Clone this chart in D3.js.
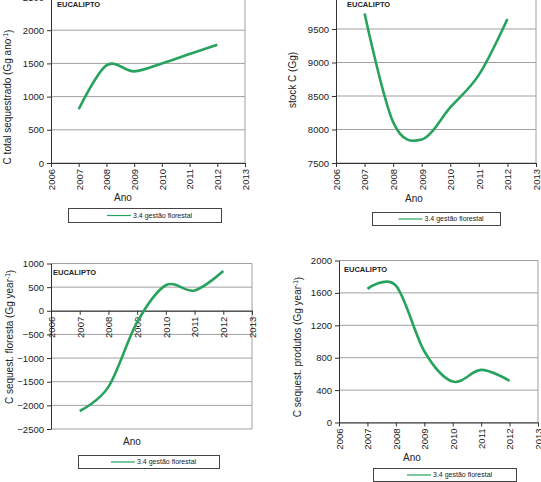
<!DOCTYPE html>
<html>
<head>
<meta charset="utf-8">
<script src="https://cdn.jsdelivr.net/npm/d3@7"></script>
<style>
  body { margin: 0; background: #fff; }
  svg { display: block; font-family: "Liberation Sans", Arial, sans-serif; }
</style>
</head>
<body>
<div id="chart"></div>
<script>
// data
const years = [2007, 2008, 2009, 2010, 2011, 2012];
const xTicks = [2006, 2007, 2008, 2009, 2010, 2011, 2012, 2013];
const seriesName = "3.4 gestão florestal";
const panelTag = "EUCALIPTO";

const cTotal = [810, 1470, 1380, 1500, 1640, 1780];
const stockC = [9730, 8110, 7850, 8330, 8815, 9650];
const cFloresta = [-2120, -1610, -240, 540, 430, 840];
const cProdutos = [1650, 1690, 880, 505, 650, 515];

const yTicks1 = [0, 500, 1000, 1500, 2000, 2500];
const yTicks2 = [7500, 8000, 8500, 9000, 9500, 10000];
const yTicks3 = [-2500, -2000, -1500, -1000, -500, 0, 500, 1000];
const yTicks4 = [0, 400, 800, 1200, 1600, 2000];

const W = 541, H = 482;
const svg = d3.select("#chart").append("svg")
    .attr("width", W)
    .attr("height", H);

const LINE = "#27a35e";

function drawPanel(p) {
    const g = svg.append("g");

    const x = d3.scaleLinear().domain([2006, 2013]).range([p.left, p.right]);
    const y = d3.scaleLinear().domain(p.yDomain).range([p.bottom, p.top]);

    // gridlines
    g.selectAll(".grid")
        .data(p.yTicks.filter(v => v !== p.yDomain[0]))
        .join("line")
        .attr("x1", p.left).attr("x2", p.right)
        .attr("y1", d => y(d)).attr("y2", d => y(d))
        .attr("stroke", "#a0a0a0")
        .attr("stroke-width", 1);

    // right and bottom frame
    g.append("line")
        .attr("x1", p.right).attr("x2", p.right)
        .attr("y1", p.top).attr("y2", p.bottom)
        .attr("stroke", "#a0a0a0");
    g.append("line")
        .attr("x1", p.left).attr("x2", p.right)
        .attr("y1", p.bottom).attr("y2", p.bottom)
        .attr("stroke", "#a0a0a0");

    // y axis
    const yAxis = g.append("g")
        .attr("transform", `translate(${p.left},0)`)
        .call(d3.axisLeft(y).tickValues(p.yTicks).tickFormat(d3.format("d"))
            .tickSize(4).tickSizeOuter(0).tickPadding(3));
    yAxis.select(".domain").attr("stroke", "#333");
    yAxis.selectAll(".tick line").attr("stroke", "#333");
    yAxis.selectAll("text")
        .attr("fill", "#222")
        .style("font-size", "9.5px")
        .style("font-family", "Liberation Sans, Arial, sans-serif");

    // x axis, sits at zero (or at the bottom)
    const axisY = p.xAxisAt !== undefined ? y(p.xAxisAt) : p.bottom;
    const xAxis = g.append("g")
        .attr("transform", `translate(0,${axisY})`)
        .call(d3.axisBottom(x).tickValues(xTicks).tickFormat(d3.format("d")).tickSize(4).tickSizeOuter(0));
    xAxis.select(".domain").attr("stroke", "#333");
    xAxis.selectAll(".tick line").attr("stroke", "#333");
    xAxis.selectAll("text")
        .attr("fill", "#222")
        .attr("transform", "rotate(-90)")
        .attr("text-anchor", "end")
        .attr("x", -6)
        .attr("y", 0)
        .attr("dy", "0.35em")
        .style("font-size", "9.5px")
        .style("font-family", "Liberation Sans, Arial, sans-serif");

    // series
    const line = d3.line()
        .x((d, i) => x(years[i]))
        .y(d => y(d))
        .curve(d3.curveCardinal.tension(0));
    g.append("path")
        .datum(p.values)
        .attr("d", line)
        .attr("fill", "none")
        .attr("stroke", LINE)
        .attr("stroke-width", 2.6)
        .attr("stroke-linejoin", "round");

    // tag
    g.append("text")
        .attr("x", p.tagX).attr("y", p.tagY)
        .style("font-size", "7.5px")
        .style("font-weight", "bold")
        .attr("fill", "#222")
        .text(panelTag);

    // axis titles
    g.append("text")
        .attr("x", p.anoX).attr("y", p.anoY)
        .attr("text-anchor", "middle")
        .style("font-size", "10px")
        .attr("fill", "#222")
        .text("Ano");

    const yt = g.append("text")
        .attr("transform", `translate(${p.ytX},${p.ytY}) rotate(-90)`)
        .attr("text-anchor", "middle")
        .style("font-size", "10px")
        .attr("fill", "#222");
    yt.append("tspan").text(p.yTitle);
    if (p.yTitleEnd) {
        yt.append("tspan").attr("dy", "-0.4em").style("font-size", "6.5px").text("-1");
        yt.append("tspan").attr("dy", "0.4em").text(p.yTitleEnd);
    }

    // legend
    const lg = g.append("g").attr("transform", `translate(${p.legX},${p.legY})`);
    lg.append("rect")
        .attr("width", p.legW).attr("height", p.legH)
        .attr("fill", "#fff").attr("stroke", "#444").attr("stroke-width", 1);
    const cx = p.legW / 2;
    lg.append("line")
        .attr("x1", cx - 38).attr("x2", cx - 14)
        .attr("y1", p.legH / 2).attr("y2", p.legH / 2)
        .attr("stroke", LINE).attr("stroke-width", 1.2);
    lg.append("text")
        .attr("x", cx - 12).attr("y", p.legH / 2)
        .attr("dy", "0.35em")
        .style("font-size", "7px")
        .attr("fill", "#222")
        .text(seriesName);
}

drawPanel({
    values: cTotal, yDomain: [0, 2500], yTicks: yTicks1,
    left: 51, right: 245, top: -3, bottom: 163,
    tagX: 57, tagY: 7,
    anoX: 123, anoY: 201,
    ytX: 11, ytY: 97, yTitle: "C total sequestrado  (Gg ano", yTitleEnd: ")",
    legX: 68.5, legY: 208.5, legW: 153, legH: 14
});

drawPanel({
    values: stockC, yDomain: [7500, 10000], yTicks: yTicks2,
    left: 336, right: 536, top: -4.5, bottom: 163,
    tagX: 347, tagY: 7,
    anoX: 414, anoY: 202,
    ytX: 296, ytY: 80, yTitle: "stock C (Gg)", yTitleEnd: "",
    legX: 372.5, legY: 212.5, legW: 128, legH: 13
});

drawPanel({
    values: cFloresta, yDomain: [-2500, 1000], yTicks: yTicks3, xAxisAt: 0,
    left: 51, right: 252, top: 263.5, bottom: 429,
    tagX: 53, tagY: 275,
    anoX: 132, anoY: 445,
    ytX: 13, ytY: 337, yTitle: "C sequest. floresta (Gg year", yTitleEnd: ")",
    legX: 78.5, legY: 455.5, legW: 141, legH: 13
});

drawPanel({
    values: cProdutos, yDomain: [0, 2000], yTicks: yTicks4,
    left: 339, right: 538, top: 260.5, bottom: 422.5,
    tagX: 344, tagY: 272,
    anoX: 412, anoY: 461,
    ytX: 301, ytY: 347, yTitle: "C sequest. produtos (Gg year", yTitleEnd: ")",
    legX: 373.5, legY: 468.5, legW: 143, legH: 13
});
</script>
</body>
</html>
